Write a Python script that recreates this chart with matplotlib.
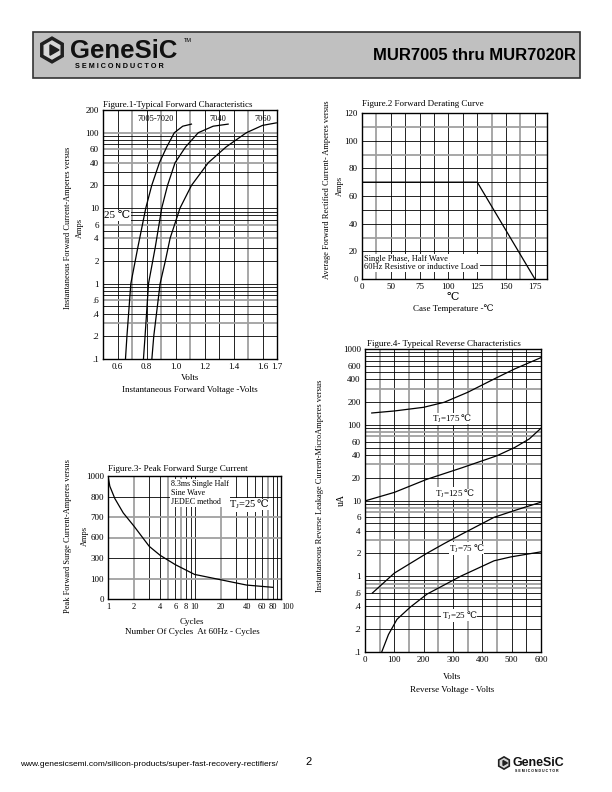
import numpy as np
import matplotlib
matplotlib.use("Agg")
import matplotlib.pyplot as plt
from matplotlib.patches import Rectangle, RegularPolygon

plt.rcParams['font.family'] = ['Liberation Serif', 'DejaVu Serif', 'Noto Sans CJK SC']
plt.rcParams['mathtext.fontset'] = 'dejavuserif'

# Figure 1 - typical forward characteristics (volts, amps)
v_7005 = [0.655, 0.665, 0.692, 0.74, 0.795, 0.836, 0.889, 0.94, 0.992, 1.05, 1.11]
i_7005 = [0.1, 0.2, 1, 3, 10, 20, 40, 65, 100, 122, 130]
v_7040 = [0.779, 0.79, 0.814, 0.86, 0.905, 0.945, 0.997, 1.07, 1.157, 1.26, 1.363]
i_7040 = [0.1, 0.2, 1, 3, 10, 20, 40, 65, 100, 122, 130]
v_7060 = [0.837, 0.85, 0.894, 0.93, 0.963, 1.031, 1.11, 1.226, 1.35, 1.489, 1.6, 1.695]
i_7060 = [0.1, 0.2, 1, 2, 4, 10, 20, 40, 65, 100, 125, 135]

# Figure 2 - forward derating curve
case_temp = [25, 125, 175]
avg_current = [70, 70, 0]
derate_ticks = [25, 50, 75, 100, 125, 150, 175]
derate_labels = ['0', '50', '75', '100', '125', '150', '175']

# Figure 3 - peak forward surge current
cycles = [1, 1.05, 1.2, 1.5, 2, 3, 4, 6, 10, 20, 40, 80]
surge = [1000, 900, 790, 720, 655, 470, 340, 235, 140, 94, 68, 57]
surge_ticks = [0, 100, 300, 600, 700, 800, 1000]

# Figure 4 - typical reverse characteristics (volts, microamps)
v_175 = [23, 100, 200, 270, 350, 450, 510, 600]
i_175 = [143, 152, 170, 198, 268, 420, 545, 770]
v_125 = [5, 100, 210, 330, 450, 510, 560, 600]
i_125 = [10, 12.8, 19, 27, 39, 50, 65, 90]
v_75 = [25, 100, 210, 270, 330, 440, 520, 600]
i_75 = [0.6, 1.1, 2.0, 2.7, 3.6, 6.0, 7.6, 9.5]
v_25 = [57, 80, 109, 154, 211, 326, 440, 497, 600]
i_25 = [0.1, 0.17, 0.27, 0.39, 0.58, 1.0, 1.6, 1.8, 2.1]

W, H = 612, 792
BLK = '#000000'
GRY = '#a0a0a0'
DEG = '\u2103'
fig = plt.figure(figsize=(W / 100, H / 100), dpi=100)

# page layer in pixel coordinates for header, footer and free labels
page = fig.add_axes([0, 0, 1, 1])
page.set_xlim(0, W)
page.set_ylim(H, 0)
page.axis('off')


def px_axes(x0, y0, x1, y1):
    return fig.add_axes([x0 / W, 1 - y1 / H, (x1 - x0) / W, (y1 - y0) / H])


def draw_grid(ax, xs, ys, grey_x=(), grey_y=()):
    for x in xs:
        g = x in grey_x
        ax.axvline(x, color=GRY if g else BLK, lw=1.3 if g else 0.6, zorder=1)
    for y in ys:
        g = y in grey_y
        ax.axhline(y, color=GRY if g else BLK, lw=1.3 if g else 0.6, zorder=1)


def style(ax):
    ax.tick_params(length=0, pad=3, labelsize=6.5)
    for s in ax.spines.values():
        s.set_linewidth(1.0)
        s.set_zorder(5)


def log_lines(lo, hi):
    vals = []
    for d in range(-2, 4):
        for k in range(1, 10):
            v = round(k * 10 ** d, 6)
            if lo < v < hi:
                vals.append(v)
    return vals


def tj_label(ax, x, y, temp, size):
    # "T_J=xx" in mathtext, the degree sign as plain text (fallback font) right after it
    box = dict(facecolor='white', edgecolor='none', pad=0.5)
    ax.text(x, y, 'T$_\\mathregular{J}$=' + temp, fontsize=size, ha='right', va='center',
            zorder=4, bbox=box)
    ax.text(x, y, DEG, fontsize=size, ha='left', va='center', zorder=4, bbox=box)


def logo(x, y, scale):
    page.add_patch(RegularPolygon((x, y), 6, radius=13 * scale, color='#202020', zorder=3))
    page.add_patch(RegularPolygon((x, y), 6, radius=9 * scale, color='#d8d8d8', zorder=3))
    page.add_patch(RegularPolygon((x + 1 * scale, y), 3, radius=6 * scale,
                                  orientation=-np.pi / 2, color='#202020', zorder=3))
    page.text(x + 18 * scale, y + 1 * scale, 'GeneSiC', family='Liberation Sans', weight='bold',
              fontsize=18.5 * scale, va='center', ha='left', color='#111111', zorder=4)
    page.text(x + 23 * scale, y + 16 * scale, ' '.join('SEMICONDUCTOR'), family='Liberation Sans',
              weight='bold', fontsize=5.2 * scale, va='center', ha='left', zorder=4)


# header
page.add_patch(Rectangle((33, 32), 547, 46, facecolor='#c0c0c0', edgecolor='#333333', lw=1.2))
logo(52, 50, 1.0)
page.text(184, 40, 'TM', family='Liberation Sans', fontsize=4, va='center')
page.text(576, 55, 'MUR7005 thru MUR7020R', family='Liberation Sans', weight='bold',
          fontsize=12, ha='right', va='center')

# footer
page.text(20, 764, 'www.genesicsemi.com/silicon-products/super-fast-recovery-rectifiers/',
          family='Liberation Sans', fontsize=6, va='center')
page.text(305, 762, '2', family='Liberation Sans', fontsize=8, va='center')
logo(504, 763, 0.48)

# ---------------- Figure 1 ----------------
ax1 = px_axes(103, 110, 277, 359)
ax1.set_yscale('log')
ax1.set_xlim(0.5, 1.7)
ax1.set_ylim(0.1, 200)
draw_grid(ax1, [round(0.6 + 0.1 * k, 1) for k in range(11)], log_lines(0.1, 200),
          grey_x=(0.7, 0.9, 1.1, 1.5), grey_y=(0.3, 0.6, 4, 6, 40, 60, 100))
for v, i in [(v_7005, i_7005), (v_7040, i_7040), (v_7060, i_7060)]:
    ax1.plot(v, i, color=BLK, lw=0.9, zorder=3)
ax1.set_xticks([0.6, 0.8, 1.0, 1.2, 1.4, 1.6, 1.7])
ax1.set_xticklabels(['0.6', '0.8', '1.0', '1.2', '1.4', '1.6', '1.7'])
ax1.set_yticks([0.1, 0.2, 0.4, 0.6, 1, 2, 4, 6, 10, 20, 40, 60, 100, 200])
ax1.set_yticklabels(['.1', '.2', '.4', '.6', '1', '2', '4', '6', '10', '20', '40', '60', '100', '200'])
ax1.minorticks_off()
style(ax1)
for txt, x in [('7005-7020', 0.86), ('7040', 1.29), ('7060', 1.6)]:
    ax1.text(x, 150, txt, fontsize=6, ha='center', va='center', zorder=4)
ax1.text(0.505, 8, '25 ' + DEG, fontsize=8, ha='left', va='center', zorder=4,
         bbox=dict(facecolor='white', edgecolor='none', pad=0.5))
page.text(103, 105, 'Figure.1-Typical Forward Characteristics', fontsize=6.5, va='center')
page.text(68, 228, 'Instantaneous Forward Current-Amperes versus', fontsize=6, rotation=90,
          ha='center', va='center')
page.text(80, 228, 'Amps', fontsize=6, rotation=90, ha='center', va='center')
page.text(190, 378, 'Volts', fontsize=6.5, ha='center', va='center')
page.text(190, 390, 'Instantaneous Forward Voltage -Volts', fontsize=6.5, ha='center', va='center')

# ---------------- Figure 2 ----------------
ax2 = px_axes(362, 113, 547, 279)
ax2.set_xlim(25, 185.5)
ax2.set_ylim(0, 120)
draw_grid(ax2, [37.5 + 12.5 * k for k in range(12)], list(range(10, 120, 10)),
          grey_x=(37.5, 137.5, 162.5), grey_y=(30, 90, 110))
ax2.plot(case_temp, avg_current, color=BLK, lw=0.9, zorder=3)
ax2.set_xticks(derate_ticks)
ax2.set_xticklabels(derate_labels)
ax2.set_yticks(range(0, 121, 20))
style(ax2)
ax2.text(27, 11.5, 'Single Phase, Half Wave\n60Hz Resistive or inductive Load', fontsize=6,
         ha='left', va='center', linespacing=1.1, zorder=4,
         bbox=dict(facecolor='white', edgecolor='none', pad=0.8))
page.text(362, 104, 'Figure.2 Forward Derating Curve', fontsize=6.5, va='center')
page.text(327, 190, 'Average Forward Rectified Current- Amperes versus', fontsize=6, rotation=90,
          ha='center', va='center')
page.text(340, 186, 'Amps', fontsize=6, rotation=90, ha='center', va='center')
page.text(453, 298, DEG, fontsize=8, ha='center', va='center')
page.text(453, 309, 'Case Temperature -' + DEG, fontsize=6.5, ha='center', va='center')

# ---------------- Figure 3 ----------------
ax3 = px_axes(108, 476, 281, 599)
pos = np.arange(len(surge_ticks))
ax3.set_yscale('function', functions=(lambda v: np.interp(v, surge_ticks, pos),
                                      lambda p: np.interp(p, pos, surge_ticks)))
ax3.set_xscale('log')
ax3.set_xlim(1, 100)
ax3.set_ylim(0, 1000)
draw_grid(ax3, [2, 3, 4, 5, 6, 7, 8, 9, 10, 20, 30, 40, 50, 60, 70, 80, 90], surge_ticks[1:-1],
          grey_x=(2, 5, 7, 20, 70), grey_y=(100, 600, 700))
ax3.plot(cycles, surge, color=BLK, lw=0.9, zorder=3)
ax3.set_xticks([1, 2, 4, 6, 8, 10, 20, 40, 60, 80, 100])
ax3.set_xticklabels(['1', '2', '4', '6', '8', '10', '20', '40', '60', '80', '100'])
ax3.set_yticks(surge_ticks)
ax3.set_yticklabels([str(t) for t in surge_ticks])
ax3.minorticks_off()
style(ax3)
ax3.tick_params(axis='x', labelsize=6)
ax3.get_xticklabels()[-1].set_horizontalalignment('left')
ax3.text(5.3, 960, '8.3ms Single Half\nSine Wave\nJEDEC method', fontsize=5.8, ha='left', va='top',
         linespacing=1.15, zorder=4, bbox=dict(facecolor='white', edgecolor='none', pad=0.8))
tj_label(ax3, 52, 760, '25', 7.5)
page.text(108, 469, 'Figure.3- Peak Forward Surge Current', fontsize=6.5, va='center')
page.text(68, 536, 'Peak Forward Surge Current-Amperes versus', fontsize=6, rotation=90,
          ha='center', va='center')
page.text(85, 536, 'Amps', fontsize=6, rotation=90, ha='center', va='center')
page.text(192, 622, 'Cycles', fontsize=6.5, ha='center', va='center')
page.text(192, 632, 'Number Of Cycles  At 60Hz - Cycles', fontsize=6.5, ha='center', va='center')

# ---------------- Figure 4 ----------------
ax4 = px_axes(365, 349, 541, 652)
ax4.set_yscale('log')
ax4.set_xlim(0, 600)
ax4.set_ylim(0.1, 1000)
draw_grid(ax4, list(range(50, 600, 50)), log_lines(0.1, 1000),
          grey_x=(50, 150, 250, 350, 450), grey_y=(0.7, 0.8, 3, 7, 8, 30, 70, 80, 300))
for v, i in [(v_175, i_175), (v_125, i_125), (v_75, i_75), (v_25, i_25)]:
    ax4.plot(v, i, color=BLK, lw=0.9, zorder=3)
ax4.set_xticks(range(0, 601, 100))
ax4.set_yticks([0.1, 0.2, 0.4, 0.6, 1, 2, 4, 6, 10, 20, 40, 60, 100, 200, 400, 600, 1000])
ax4.set_yticklabels(['.1', '.2', '.4', '.6', '1', '2', '4', '6', '10', '20', '40', '60',
                     '100', '200', '400', '600', '1000'])
ax4.minorticks_off()
style(ax4)
for txt, x, y in [('175', 325, 119), ('125', 335, 12.2), ('75', 370, 2.3), ('25', 345, 0.3)]:
    tj_label(ax4, x, y, txt, 6.5)
page.text(367, 344, 'Figure.4- Typeical Reverse Characteristics', fontsize=6.5, va='center')
page.text(320, 486, 'Instantaneous Reverse Leakage Current-MicroAmperes versus', fontsize=6,
          rotation=90, ha='center', va='center')
page.text(341, 500, 'uA', fontsize=7, rotation=90, ha='center', va='center')
page.text(452, 677, 'Volts', fontsize=6.5, ha='center', va='center')
page.text(452, 690, 'Reverse Voltage - Volts', fontsize=6.5, ha='center', va='center')

fig.savefig('out.png', dpi=100)
